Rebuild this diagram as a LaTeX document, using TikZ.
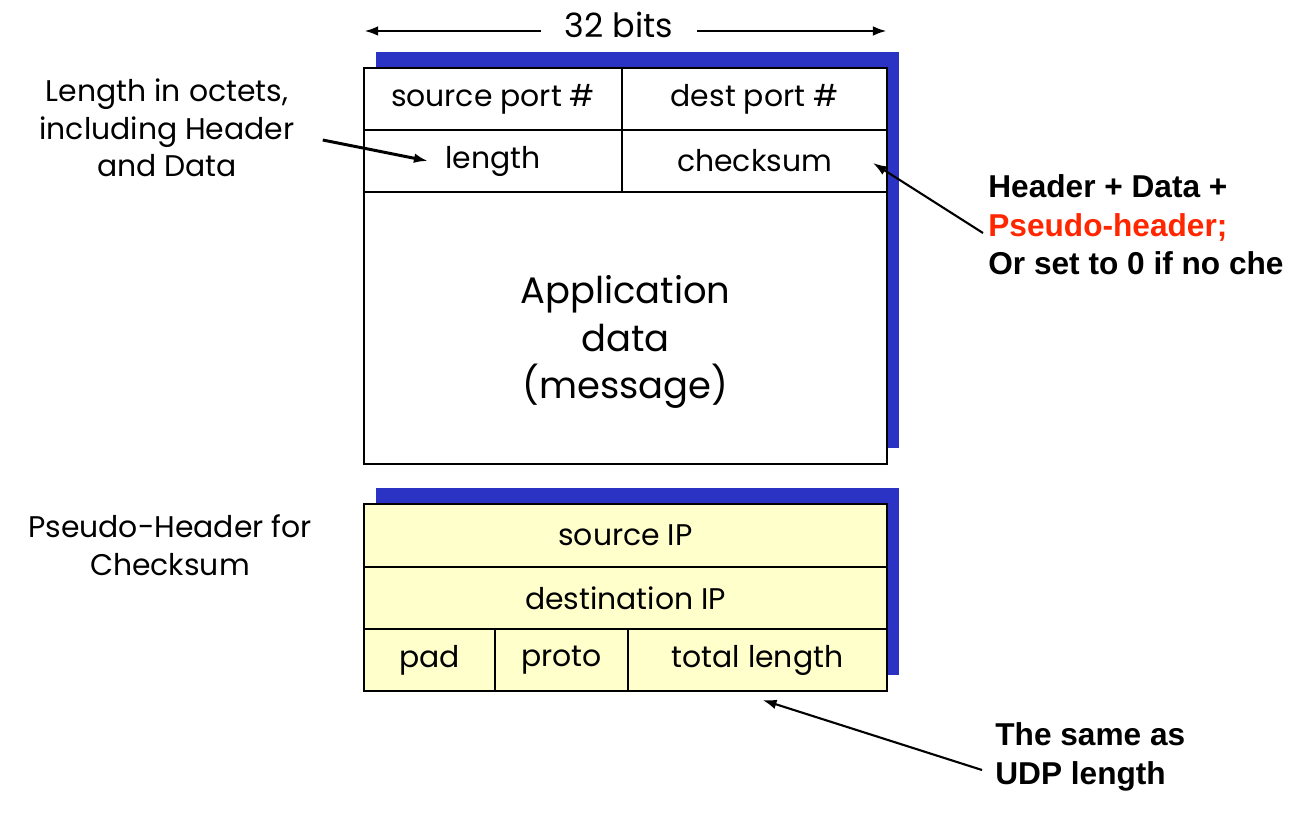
\documentclass[tikz,border=0pt]{standalone}
\usepackage{fontspec}
\setmainfont{Poppins}
\newfontfamily\notefont{Liberation Sans}
\usetikzlibrary{positioning, backgrounds, arrows.meta}

\definecolor{shadowblue}{RGB}{43,51,197}
\definecolor{pseudoyellow}{RGB}{255,255,204}
\definecolor{notered}{RGB}{255,38,0}

\newlength\px
\setlength\px{0.02cm}

\begin{document}
\begin{tikzpicture}[x=\px,y=-\px,>={Latex[length=8pt,width=5.5pt]},
	every node/.style={font=\fontsize{17}{21.5}\selectfont},
	cell/.style={draw,fill=white,line width=1.5pt,inner sep=0pt,outer sep=0pt,minimum height=62\px,anchor=north west},
	pseudo/.style={cell,fill=pseudoyellow},
	note/.style={font=\notefont\bfseries\fontsize{18}{22}\selectfont,align=left,inner sep=0pt},
	pointer/.style={->,line width=1.2pt}]
	\useasboundingbox (0,0) rectangle (1290,813);
	% UDP header
	\node[cell,minimum width=258\px] (sport) at (364,68) {source port \#};
	\node[cell,minimum width=265\px] (dport) at (sport.north east) {dest port \#};
	\node[cell,minimum width=258\px] (len) at (sport.south west) {length};
	\node[cell,minimum width=265\px] (chk) at (len.north east) {checksum};
	\node[cell,minimum width=523\px,minimum height=272\px] (app) at (len.south west) {};
	\node[align=center,font=\fontsize{21}{27.2}\selectfont] (apptxt) at ([yshift=-14\px]app.center) {Application\\data\\(message)};
	% pseudo header
	\node[pseudo,minimum width=523\px,minimum height=63\px] (srcip) at (364,504) {source IP};
	\node[pseudo,minimum width=523\px] (dstip) at (srcip.south west) {destination IP};
	\node[pseudo,minimum width=131\px] (pad) at (dstip.south west) {pad};
	\node[pseudo,minimum width=133\px] (proto) at (pad.north east) {proto};
	\node[pseudo,minimum width=259\px] (totlen) at (proto.north east) {total length};
	\begin{scope}[on background layer]
		\fill[shadowblue] ([shift={(12,-16)}]sport.north west) rectangle ([shift={(12,-16)}]app.south east);
		\fill[shadowblue] ([shift={(12,-16)}]srcip.north west) rectangle ([shift={(12,-16)}]totlen.south east);
	\end{scope}
	% width
	\node[inner xsep=24\px,font=\fontsize{19}{23}\selectfont] (bits) at (619,25) {32 bits};
	\coordinate (bitsL) at ([yshift=-6\px]bits.west);
	\coordinate (bitsR) at ([yshift=-6\px]bits.east);
	\draw[->,line width=1.6pt] (bitsL) -- (bitsL -| sport.west);
	\draw[->,line width=1.6pt] (bitsR) -- (bitsR -| dport.east);
	% notes
	\node[align=center] (lenlbl) at (167,128) {Length in octets,\\including Header\\and Data};
	\node[align=center] (pslbl) at (170,545) {Pseudo-Header for\\Checksum};
	\node[note,anchor=west] (chklbl) at (988,225) {Header + Data +\\\textcolor{notered}{Pseudo-header;}\\Or set to 0 if no che};
	\node[note,anchor=west] (samelbl) at (995,757) {The same as\\UDP length};
	\draw[pointer,line width=1.7pt] ([shift={(22,12)}]lenlbl.east) -- ([shift={(-65,0)}]len.center);
	\draw[pointer] ([shift={(-5,8)}]chklbl.west) -- ([shift={(-14,2)}]chk.east);
	\draw[pointer] ([shift={(-13,13)}]samelbl.west) -- ([shift={(5,9)}]totlen.south);
\end{tikzpicture}
\end{document}
